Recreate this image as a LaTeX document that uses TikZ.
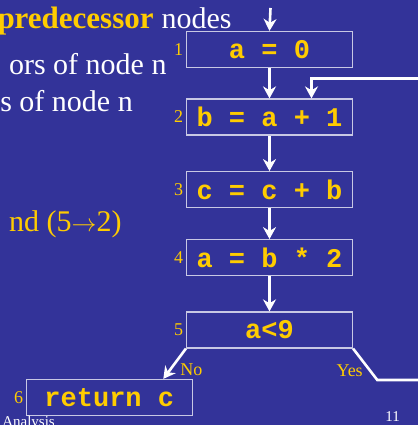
\documentclass[tikz,border=0pt]{standalone}
\usepackage{fontspec}
\setmainfont{Liberation Serif}
\setmonofont{Liberation Mono}
\usetikzlibrary{arrows.meta, positioning}
\definecolor{slidebg}{RGB}{51,51,153}
\definecolor{hilite}{RGB}{255,204,0}
\definecolor{boxline}{RGB}{200,200,228}
\tikzset{
  stmt/.style={rectangle, draw=boxline, line width=1.2pt,
               minimum width=166pt, minimum height=36pt, inner sep=0pt,
               text=hilite, font=\fontsize{27}{27}\selectfont\ttfamily\bfseries},
  num/.style={text=hilite, font=\fontsize{18}{18}\selectfont, inner sep=2.5pt},
  arr/.style={-{Stealth[length=12pt,width=13pt]}, white, line width=2.6pt},
  flow/.style={white, line width=2.6pt},
  lbl/.style={text=hilite, font=\fontsize{18}{18}\selectfont, inner sep=0pt},
  body/.style={font=\fontsize{30}{30}\selectfont, inner sep=0pt, anchor=base east},
  foot/.style={text=white, font=\fontsize{15}{15}\selectfont, inner sep=0pt, anchor=base east},
}

\begin{document}
\begin{tikzpicture}[x=1pt, y=-1pt]

  \useasboundingbox (0,0) rectangle (418,425);
  \clip (0,0) rectangle (418,425);
  \fill[slidebg] (0,0) rectangle (418,425);

  % bullet text on the left
  \node[body, text=white] (l1) at (231.7,29) {nodes};
  \node[body, text=hilite, font=\fontsize{31}{31}\selectfont\bfseries]
    (l1b) at ([xshift=-7.5pt]l1.base west) {predecessor};
  \node[body, text=white] (l2) at (166.7,75) {ors of node n};
  \node[body, text=white] (l3) at (133,111.7) {s of node n};
  \node[body, text=hilite] (l4) at (121.7,231.7) {nd (5$\rightarrow$2)};

  % flow graph
  \node[stmt, label={[num]left:1}] (b1) at (269.5,49.5)  {a = 0};
  \node[stmt, label={[num]left:2}] (b2) at (269.5,117)   {b = a + 1};
  \node[stmt, label={[num]left:3}] (b3) at (269.5,189.7) {c = c + b};
  \node[stmt, label={[num]left:4}] (b4) at (269.5,257.7) {a = b * 2};
  \node[stmt, label={[num]left:5}] (b5) at (269.5,330)   {a<9};
  \node[stmt, label={[num]left:6}] (b6) at (109.3,397.5) {return c};

  \coordinate (entry) at (270.5,8);
  \coordinate (loopin) at (420,78.3);
  \coordinate (yesbend) at (377.3,380);
  \coordinate (yesout) at (420,380);

  \draw[arr] (entry) -- (b1.north);
  \draw[arr] (b1) -- (b2);
  \draw[arr] (b2) -- (b3);
  \draw[arr] (b3) -- (b4);
  \draw[arr] (b4) -- (b5);
  \draw[arr] (loopin) -| ([xshift=42pt]b2.north);
  \draw[arr] (b5.south west) -- ([xshift=54pt]b6.north)
    node[lbl, pos=0.7, right=9pt] {No};
  \draw[flow] (b5.south east) -- (yesbend)
    node[lbl, pos=0.7, left=6pt] {Yes} -- (yesout);

  % slide footer
  \node[foot] (title) at (55,426) {Analysis};
  \node[foot] (page) at (400,421) {11};

\end{tikzpicture}
\end{document}
